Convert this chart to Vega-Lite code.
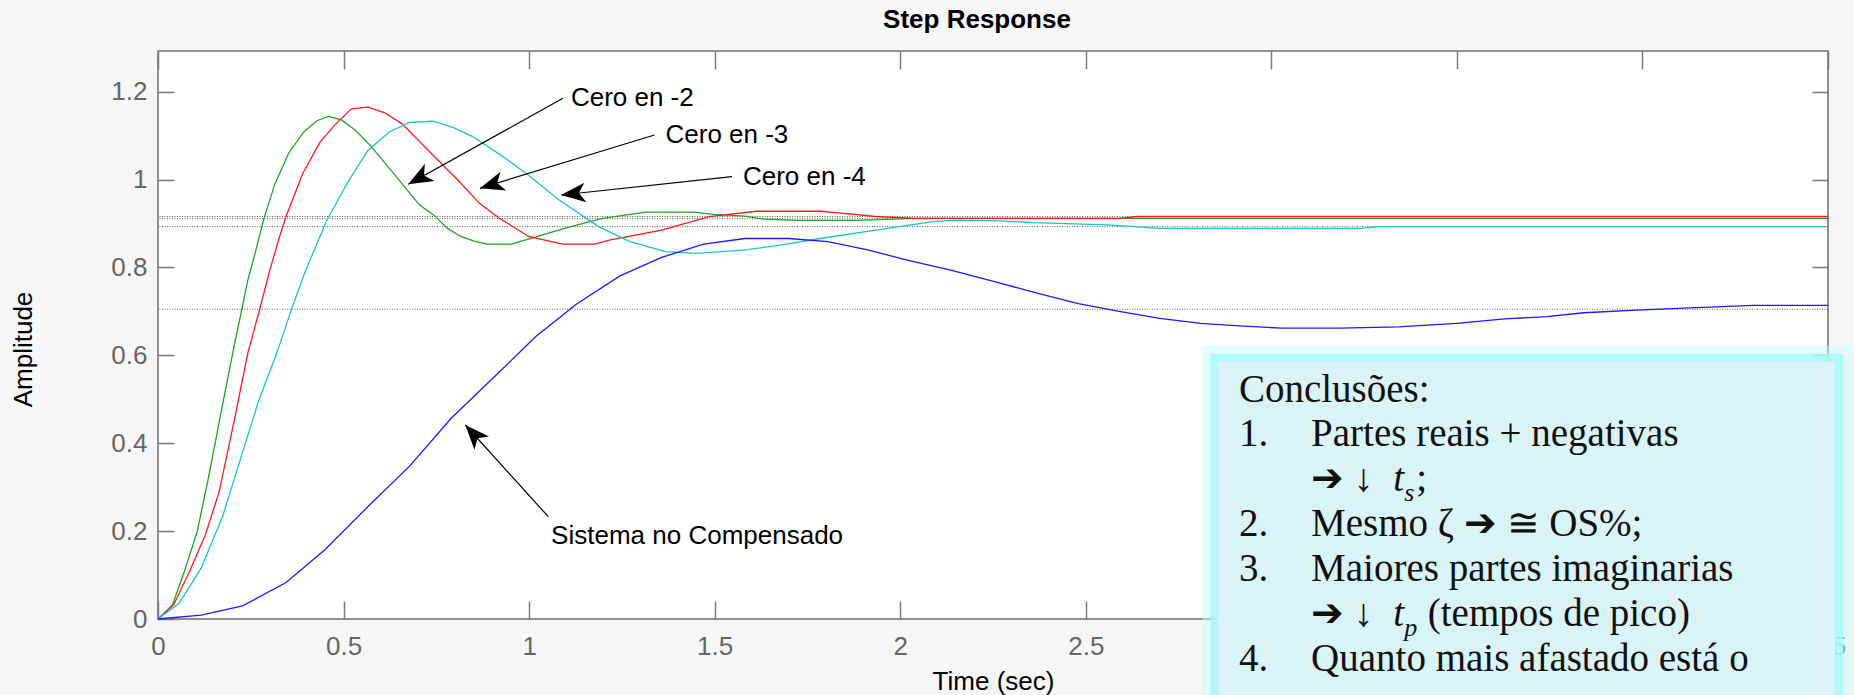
{
  "$schema": "https://vega.github.io/schema/vega-lite/v6.json",
  "width": 1670,
  "height": 568,
  "autosize": "none",
  "padding": {"left": 158, "top": 51, "right": 26, "bottom": 76},
  "background": "#f6f6f6",
  "config": {
    "view": {"fill": "white", "stroke": "#6e6e6e", "strokeWidth": 1.5},
    "font": "Liberation Sans",
    "axis": {"grid": false, "domain": false}
  },
  "title": {
    "text": "Step Response",
    "font": "Liberation Sans",
    "fontSize": 26,
    "fontWeight": "bold",
    "color": "black",
    "anchor": "middle",
    "frame": "group",
    "offset": 17,
    "dx": -16
  },
  "datasets": {
    "refs": [{"amp": 0.916}, {"amp": 0.911}, {"amp": 0.893}, {"amp": 0.705}],
    "curves": [
      {"s": "Cero en -2", "t": 0, "amp": 0},
      {"s": "Cero en -2", "t": 0.039, "amp": 0.032},
      {"s": "Cero en -2", "t": 0.071, "amp": 0.108},
      {"s": "Cero en -2", "t": 0.106, "amp": 0.2},
      {"s": "Cero en -2", "t": 0.138, "amp": 0.33},
      {"s": "Cero en -2", "t": 0.17, "amp": 0.47},
      {"s": "Cero en -2", "t": 0.206, "amp": 0.625},
      {"s": "Cero en -2", "t": 0.226, "amp": 0.705},
      {"s": "Cero en -2", "t": 0.242, "amp": 0.771},
      {"s": "Cero en -2", "t": 0.264, "amp": 0.84},
      {"s": "Cero en -2", "t": 0.285, "amp": 0.91},
      {"s": "Cero en -2", "t": 0.314, "amp": 0.988},
      {"s": "Cero en -2", "t": 0.352, "amp": 1.06},
      {"s": "Cero en -2", "t": 0.392, "amp": 1.108},
      {"s": "Cero en -2", "t": 0.428, "amp": 1.134},
      {"s": "Cero en -2", "t": 0.46, "amp": 1.144},
      {"s": "Cero en -2", "t": 0.494, "amp": 1.136},
      {"s": "Cero en -2", "t": 0.531, "amp": 1.113},
      {"s": "Cero en -2", "t": 0.575, "amp": 1.075},
      {"s": "Cero en -2", "t": 0.62, "amp": 1.029},
      {"s": "Cero en -2", "t": 0.66, "amp": 0.988},
      {"s": "Cero en -2", "t": 0.705, "amp": 0.942},
      {"s": "Cero en -2", "t": 0.745, "amp": 0.918},
      {"s": "Cero en -2", "t": 0.78, "amp": 0.889},
      {"s": "Cero en -2", "t": 0.817, "amp": 0.87},
      {"s": "Cero en -2", "t": 0.856, "amp": 0.859},
      {"s": "Cero en -2", "t": 0.888, "amp": 0.853},
      {"s": "Cero en -2", "t": 0.952, "amp": 0.853},
      {"s": "Cero en -2", "t": 1.005, "amp": 0.866},
      {"s": "Cero en -2", "t": 1.1, "amp": 0.89},
      {"s": "Cero en -2", "t": 1.197, "amp": 0.912},
      {"s": "Cero en -2", "t": 1.315, "amp": 0.926},
      {"s": "Cero en -2", "t": 1.443, "amp": 0.926},
      {"s": "Cero en -2", "t": 1.496, "amp": 0.921},
      {"s": "Cero en -2", "t": 1.582, "amp": 0.917},
      {"s": "Cero en -2", "t": 1.635, "amp": 0.91},
      {"s": "Cero en -2", "t": 1.72, "amp": 0.907},
      {"s": "Cero en -2", "t": 1.88, "amp": 0.907},
      {"s": "Cero en -2", "t": 2.04, "amp": 0.912},
      {"s": "Cero en -2", "t": 4.5, "amp": 0.912},
      {"s": "Cero en -3", "t": 0, "amp": 0},
      {"s": "Cero en -3", "t": 0.042, "amp": 0.032},
      {"s": "Cero en -3", "t": 0.087, "amp": 0.112},
      {"s": "Cero en -3", "t": 0.127, "amp": 0.19},
      {"s": "Cero en -3", "t": 0.165, "amp": 0.29},
      {"s": "Cero en -3", "t": 0.205, "amp": 0.45},
      {"s": "Cero en -3", "t": 0.242, "amp": 0.605},
      {"s": "Cero en -3", "t": 0.274, "amp": 0.705},
      {"s": "Cero en -3", "t": 0.3, "amp": 0.79},
      {"s": "Cero en -3", "t": 0.325, "amp": 0.863},
      {"s": "Cero en -3", "t": 0.345, "amp": 0.916},
      {"s": "Cero en -3", "t": 0.39, "amp": 1.014},
      {"s": "Cero en -3", "t": 0.437, "amp": 1.086},
      {"s": "Cero en -3", "t": 0.476, "amp": 1.124},
      {"s": "Cero en -3", "t": 0.521, "amp": 1.161},
      {"s": "Cero en -3", "t": 0.566, "amp": 1.165},
      {"s": "Cero en -3", "t": 0.611, "amp": 1.152},
      {"s": "Cero en -3", "t": 0.656, "amp": 1.128},
      {"s": "Cero en -3", "t": 0.736, "amp": 1.06},
      {"s": "Cero en -3", "t": 0.808, "amp": 0.999},
      {"s": "Cero en -3", "t": 0.866, "amp": 0.946},
      {"s": "Cero en -3", "t": 0.92, "amp": 0.912},
      {"s": "Cero en -3", "t": 1.0, "amp": 0.87},
      {"s": "Cero en -3", "t": 1.091, "amp": 0.853},
      {"s": "Cero en -3", "t": 1.176, "amp": 0.853},
      {"s": "Cero en -3", "t": 1.219, "amp": 0.863},
      {"s": "Cero en -3", "t": 1.357, "amp": 0.885},
      {"s": "Cero en -3", "t": 1.485, "amp": 0.916},
      {"s": "Cero en -3", "t": 1.613, "amp": 0.928},
      {"s": "Cero en -3", "t": 1.784, "amp": 0.928},
      {"s": "Cero en -3", "t": 1.827, "amp": 0.925},
      {"s": "Cero en -3", "t": 1.934, "amp": 0.916},
      {"s": "Cero en -3", "t": 2.04, "amp": 0.912},
      {"s": "Cero en -3", "t": 2.59, "amp": 0.912},
      {"s": "Cero en -3", "t": 2.64, "amp": 0.916},
      {"s": "Cero en -3", "t": 4.5, "amp": 0.916},
      {"s": "Cero en -4", "t": 0, "amp": 0},
      {"s": "Cero en -4", "t": 0.057, "amp": 0.036},
      {"s": "Cero en -4", "t": 0.116, "amp": 0.115},
      {"s": "Cero en -4", "t": 0.174, "amp": 0.233},
      {"s": "Cero en -4", "t": 0.224, "amp": 0.369},
      {"s": "Cero en -4", "t": 0.269, "amp": 0.491},
      {"s": "Cero en -4", "t": 0.323, "amp": 0.612},
      {"s": "Cero en -4", "t": 0.359, "amp": 0.703},
      {"s": "Cero en -4", "t": 0.395, "amp": 0.787},
      {"s": "Cero en -4", "t": 0.453, "amp": 0.904},
      {"s": "Cero en -4", "t": 0.512, "amp": 0.995},
      {"s": "Cero en -4", "t": 0.566, "amp": 1.067},
      {"s": "Cero en -4", "t": 0.624, "amp": 1.109},
      {"s": "Cero en -4", "t": 0.678, "amp": 1.13},
      {"s": "Cero en -4", "t": 0.741, "amp": 1.133},
      {"s": "Cero en -4", "t": 0.795, "amp": 1.119},
      {"s": "Cero en -4", "t": 0.848, "amp": 1.098},
      {"s": "Cero en -4", "t": 0.92, "amp": 1.058},
      {"s": "Cero en -4", "t": 0.992, "amp": 1.014},
      {"s": "Cero en -4", "t": 1.08, "amp": 0.954},
      {"s": "Cero en -4", "t": 1.187, "amp": 0.893},
      {"s": "Cero en -4", "t": 1.272, "amp": 0.859},
      {"s": "Cero en -4", "t": 1.368, "amp": 0.836},
      {"s": "Cero en -4", "t": 1.453, "amp": 0.832},
      {"s": "Cero en -4", "t": 1.582, "amp": 0.84},
      {"s": "Cero en -4", "t": 1.677, "amp": 0.851},
      {"s": "Cero en -4", "t": 1.784, "amp": 0.866},
      {"s": "Cero en -4", "t": 1.934, "amp": 0.885},
      {"s": "Cero en -4", "t": 2.083, "amp": 0.904},
      {"s": "Cero en -4", "t": 2.147, "amp": 0.908},
      {"s": "Cero en -4", "t": 2.271, "amp": 0.906},
      {"s": "Cero en -4", "t": 2.357, "amp": 0.902},
      {"s": "Cero en -4", "t": 2.557, "amp": 0.897},
      {"s": "Cero en -4", "t": 2.699, "amp": 0.889},
      {"s": "Cero en -4", "t": 3.242, "amp": 0.889},
      {"s": "Cero en -4", "t": 3.285, "amp": 0.893},
      {"s": "Cero en -4", "t": 4.5, "amp": 0.893},
      {"s": "Sistema no Compensado", "t": 0, "amp": 0},
      {"s": "Sistema no Compensado", "t": 0.116, "amp": 0.009},
      {"s": "Sistema no Compensado", "t": 0.228, "amp": 0.03},
      {"s": "Sistema no Compensado", "t": 0.345, "amp": 0.083},
      {"s": "Sistema no Compensado", "t": 0.449, "amp": 0.157},
      {"s": "Sistema no Compensado", "t": 0.561, "amp": 0.252},
      {"s": "Sistema no Compensado", "t": 0.678, "amp": 0.348},
      {"s": "Sistema no Compensado", "t": 0.79, "amp": 0.457},
      {"s": "Sistema no Compensado", "t": 0.905, "amp": 0.55},
      {"s": "Sistema no Compensado", "t": 1.018, "amp": 0.643},
      {"s": "Sistema no Compensado", "t": 1.128, "amp": 0.717},
      {"s": "Sistema no Compensado", "t": 1.245, "amp": 0.781},
      {"s": "Sistema no Compensado", "t": 1.357, "amp": 0.823},
      {"s": "Sistema no Compensado", "t": 1.47, "amp": 0.853},
      {"s": "Sistema no Compensado", "t": 1.582, "amp": 0.866},
      {"s": "Sistema no Compensado", "t": 1.699, "amp": 0.866},
      {"s": "Sistema no Compensado", "t": 1.805, "amp": 0.859},
      {"s": "Sistema no Compensado", "t": 1.912, "amp": 0.84},
      {"s": "Sistema no Compensado", "t": 2.019, "amp": 0.817},
      {"s": "Sistema no Compensado", "t": 2.136, "amp": 0.794},
      {"s": "Sistema no Compensado", "t": 2.254, "amp": 0.768},
      {"s": "Sistema no Compensado", "t": 2.371, "amp": 0.741},
      {"s": "Sistema no Compensado", "t": 2.48, "amp": 0.718},
      {"s": "Sistema no Compensado", "t": 2.59, "amp": 0.7},
      {"s": "Sistema no Compensado", "t": 2.699, "amp": 0.684},
      {"s": "Sistema no Compensado", "t": 2.81, "amp": 0.673},
      {"s": "Sistema no Compensado", "t": 2.914, "amp": 0.667},
      {"s": "Sistema no Compensado", "t": 3.028, "amp": 0.662},
      {"s": "Sistema no Compensado", "t": 3.185, "amp": 0.662},
      {"s": "Sistema no Compensado", "t": 3.342, "amp": 0.665},
      {"s": "Sistema no Compensado", "t": 3.499, "amp": 0.673},
      {"s": "Sistema no Compensado", "t": 3.628, "amp": 0.683},
      {"s": "Sistema no Compensado", "t": 3.742, "amp": 0.688},
      {"s": "Sistema no Compensado", "t": 3.842, "amp": 0.697},
      {"s": "Sistema no Compensado", "t": 3.985, "amp": 0.703},
      {"s": "Sistema no Compensado", "t": 4.128, "amp": 0.708},
      {"s": "Sistema no Compensado", "t": 4.299, "amp": 0.714},
      {"s": "Sistema no Compensado", "t": 4.5, "amp": 0.714}
    ],
    "arrows": [
      {"t0": 1.0913, "a0": 1.185, "t1": 0.6743, "a1": 0.9893, "ang": 240.9},
      {"t0": 1.3378, "a0": 1.1015, "t1": 0.8675, "a1": 0.9802, "ang": 253.0},
      {"t0": 1.5466, "a0": 1.0066, "t1": 1.0859, "a1": 0.965, "ang": 263.9},
      {"t0": 1.0517, "a0": 0.2328, "t1": 0.8281, "a1": 0.4415, "ang": 317.9}
    ],
    "labels": [
      {"t": 1.1126, "amp": 1.1675, "label": "Cero en -2"},
      {"t": 1.3675, "amp": 1.0833, "label": "Cero en -3"},
      {"t": 1.5762, "amp": 0.9877, "label": "Cero en -4"},
      {"t": 1.0593, "amp": 0.1707, "label": "Sistema no Compensado"}
    ],
    "box": [{"t0": 2.857, "t1": 4.519, "a0": 0.5856, "a1": -0.4}],
    "notes": [
      {"t": 2.9127, "amp": 0.4937, "txt": "Conclusões:"},
      {"t": 2.9127, "amp": 0.3942, "txt": "1."},
      {"t": 3.1072, "amp": 0.3942, "txt": "Partes reais + negativas"},
      {"t": 3.1072, "amp": 0.2918, "txt": "➔ ↓"},
      {"t": 3.3902, "amp": 0.2918, "txt": ";"},
      {"t": 2.9127, "amp": 0.1894, "txt": "2."},
      {"t": 3.1072, "amp": 0.1894, "txt": "Mesmo ζ ➔ ≅ OS%;"},
      {"t": 2.9127, "amp": 0.087, "txt": "3."},
      {"t": 3.1072, "amp": 0.087, "txt": "Maiores partes imaginarias"},
      {"t": 3.1072, "amp": -0.0154, "txt": "➔ ↓"},
      {"t": 3.4216, "amp": -0.0154, "txt": "(tempos de pico)"},
      {"t": 2.9127, "amp": -0.1178, "txt": "4."},
      {"t": 3.1072, "amp": -0.1178, "txt": "Quanto mais afastado está o"}
    ],
    "italics": [
      {"t": 3.3287, "amp": 0.2918, "txt": "t"},
      {"t": 3.3287, "amp": -0.0154, "txt": "t"}
    ],
    "subs": [
      {"t": 3.3583, "amp": 0.2691, "txt": "s"},
      {"t": 3.3583, "amp": -0.0382, "txt": "p"}
    ]
  },
  "layer": [
    {
      "data": {"name": "refs"},
      "mark": {"type": "rule", "color": "#4a4a4a", "strokeWidth": 1, "strokeDash": [1, 1.5], "opacity": 0.9},
      "encoding": {
        "y": {"field": "amp", "type": "quantitative",
          "axis": {"orient": "right", "values": [0, 0.2, 0.4, 0.6, 0.8, 1, 1.2], "labels": false, "tickSize": -16, "tickColor": "#7a7a7a", "tickWidth": 1.5, "title": null, "minExtent": 0, "maxExtent": 0}}
      }
    },
    {
      "data": {"name": "curves"},
      "mark": {"type": "line", "strokeWidth": 1.3},
      "encoding": {
        "x": {"field": "t", "type": "quantitative",
          "scale": {"domain": [0, 4.5], "nice": false, "zero": false},
          "axis": {"orient": "bottom", "values": [0, 0.5, 1, 1.5, 2, 2.5, 3, 3.5, 4, 4.5], "format": "~g", "labelFlush": false, "labelOverlap": false,
            "tickSize": -18, "tickColor": "#7a7a7a", "tickWidth": 1.5, "labelPadding": 32,
            "labelFont": "Liberation Sans", "labelFontSize": 26, "labelColor": "#666666",
            "title": "Time (sec)", "titleFont": "Liberation Sans", "titleFontSize": 26, "titleFontWeight": "normal", "titleColor": "black", "titlePadding": 9}},
        "y": {"field": "amp", "type": "quantitative",
          "scale": {"domain": [0, 1.2927], "nice": false, "zero": false},
          "axis": {"orient": "left", "values": [0, 0.2, 0.4, 0.6, 0.8, 1, 1.2], "format": "~g", "labelOverlap": false,
            "tickSize": -16, "tickColor": "#7a7a7a", "tickWidth": 1.5, "labelPadding": 27,
            "labelFont": "Liberation Sans", "labelFontSize": 26, "labelColor": "#666666",
            "title": "Amplitude", "titleFont": "Liberation Sans", "titleFontSize": 26, "titleFontWeight": "normal", "titleColor": "black", "titlePadding": 74, "titleY": 298}},
        "color": {"field": "s", "type": "nominal",
          "scale": {"domain": ["Cero en -2", "Cero en -3", "Cero en -4", "Sistema no Compensado"], "range": ["#1ea51e", "#ff1a1a", "#1cc3c3", "#1a1aff"]},
          "legend": null}
      }
    },
    {
      "data": {"name": "arrows"},
      "mark": {"type": "rule", "color": "black", "strokeWidth": 1.2},
      "encoding": {
        "x": {"field": "t0", "type": "quantitative",
          "axis": {"orient": "top", "values": [0, 0.5, 1, 1.5, 2, 2.5, 3, 3.5, 4, 4.5], "labels": false, "tickSize": -18, "tickColor": "#7a7a7a", "tickWidth": 1.5, "title": null, "minExtent": 0, "maxExtent": 0}},
        "y": {"field": "a0", "type": "quantitative", "axis": null},
        "x2": {"field": "t1"},
        "y2": {"field": "a1"}
      }
    },
    {
      "data": {"name": "arrows"},
      "mark": {"type": "point", "shape": "M0,0 L0.98,2.45 L0,1.8 L-0.98,2.45 Z", "filled": true, "color": "black", "opacity": 1, "size": 400, "strokeWidth": 0},
      "encoding": {
        "x": {"field": "t1", "type": "quantitative", "axis": null},
        "y": {"field": "a1", "type": "quantitative", "axis": null},
        "angle": {"field": "ang", "type": "quantitative", "scale": null}
      }
    },
    {
      "data": {"name": "labels"},
      "mark": {"type": "text", "align": "left", "baseline": "alphabetic", "font": "Liberation Sans", "fontSize": 26, "color": "black"},
      "encoding": {
        "x": {"field": "t", "type": "quantitative", "axis": null},
        "y": {"field": "amp", "type": "quantitative", "axis": null},
        "text": {"field": "label"}
      }
    },
    {
      "data": {"name": "box"},
      "mark": {"type": "rect", "fillOpacity": 0, "stroke": "#c8fbfc", "strokeWidth": 32, "strokeOpacity": 0.5},
      "encoding": {
        "x": {"field": "t0", "type": "quantitative", "axis": null},
        "x2": {"field": "t1"},
        "y": {"field": "a0", "type": "quantitative", "axis": null},
        "y2": {"field": "a1"}
      }
    },
    {
      "data": {"name": "box"},
      "mark": {"type": "rect", "fillOpacity": 0, "stroke": "#a4f8fa", "strokeWidth": 16, "strokeOpacity": 0.8},
      "encoding": {
        "x": {"field": "t0", "type": "quantitative", "axis": null},
        "x2": {"field": "t1"},
        "y": {"field": "a0", "type": "quantitative", "axis": null},
        "y2": {"field": "a1"}
      }
    },
    {
      "data": {"name": "box"},
      "mark": {"type": "rect", "fill": "#daf3f7", "fillOpacity": 1, "strokeWidth": 0},
      "encoding": {
        "x": {"field": "t0", "type": "quantitative", "axis": null},
        "x2": {"field": "t1"},
        "y": {"field": "a0", "type": "quantitative", "axis": null},
        "y2": {"field": "a1"}
      }
    },
    {
      "data": {"name": "notes"},
      "mark": {"type": "text", "align": "left", "baseline": "alphabetic", "font": "Liberation Serif", "fontSize": 39, "color": "#111111"},
      "encoding": {
        "x": {"field": "t", "type": "quantitative", "axis": null},
        "y": {"field": "amp", "type": "quantitative", "axis": null},
        "text": {"field": "txt"}
      }
    },
    {
      "data": {"name": "italics"},
      "mark": {"type": "text", "align": "left", "baseline": "alphabetic", "font": "Liberation Serif", "fontSize": 39, "fontStyle": "italic", "color": "#111111"},
      "encoding": {
        "x": {"field": "t", "type": "quantitative", "axis": null},
        "y": {"field": "amp", "type": "quantitative", "axis": null},
        "text": {"field": "txt"}
      }
    },
    {
      "data": {"name": "subs"},
      "mark": {"type": "text", "align": "left", "baseline": "alphabetic", "font": "Liberation Serif", "fontSize": 26, "fontStyle": "italic", "color": "#111111"},
      "encoding": {
        "x": {"field": "t", "type": "quantitative", "axis": null},
        "y": {"field": "amp", "type": "quantitative", "axis": null},
        "text": {"field": "txt"}
      }
    }
  ]
}
